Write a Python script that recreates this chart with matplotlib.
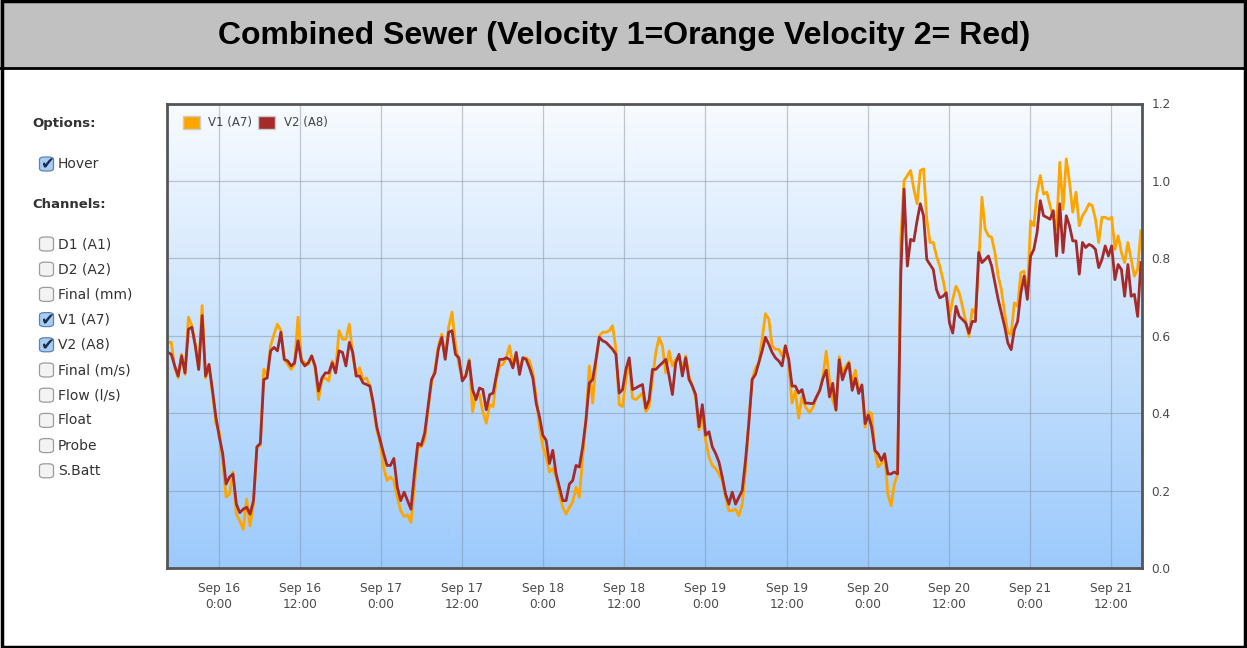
import numpy as np
import pandas as pd
import matplotlib
matplotlib.use("Agg")
import matplotlib.pyplot as plt
import matplotlib.dates as mdates
from matplotlib.patches import Rectangle, FancyBboxPatch, Patch
from matplotlib.ticker import FuncFormatter
from matplotlib.colors import LinearSegmentedColormap

# ---------------- data ----------------
title = "Combined Sewer (Velocity 1=Orange Velocity 2= Red)"
# readings were logged in three blocks: (first timestamp, last timestamp, count)
sample_blocks = [("2013-09-15 16:30", "2013-09-17 16:36", 96),
                 ("2013-09-17 17:04", "2013-09-19 15:16", 95),
                 ("2013-09-19 15:28", "2013-09-21 16:24", 103)]

v1 = [  # V1 (A7) orange
    .583, .583, .517, .491, .552, .5, .648, .626, .578, .513,
    .678, .491, .522, .452, .374, .352, .278, .183, .191, .248,
    .139, .122, .100, .178, .109, .165, .313, .317, .513, .5,
    .574, .604, .630, .613, .539, .526, .513, .526, .648, .539,
    .530, .526, .548, .517, .435, .487, .491, .483, .535, .513,
    .613, .591, .591, .630, .548, .496, .517, .487, .491, .470,
    .417, .357, .322, .261, .226, .235, .226, .183, .148, .133,
    .137, .118, .209, .313, .313, .330, .409, .478, .513, .574,
    .604, .543, .622, .661, .578, .526, .491, .496, .539, .404,
    .448, .448, .404, .374, .422, .417,
    .487, .522, .526, .543, .574, .522, .548, .513, .543, .543,
    .535, .504, .443, .365, .313, .287, .248, .257, .235, .191,
    .157, .139, .157, .170, .209, .183, .287, .383, .522, .426,
    .530, .6, .609, .609, .613, .626, .565, .422, .417, .487,
    .530, .439, .435, .443, .452, .404, .417, .487, .557, .596,
    .574, .504, .561, .522, .539, .548, .513, .548, .496, .470,
    .439, .357, .391, .330, .287, .265, .257, .243, .226, .183,
    .148, .148, .152, .135, .165, .252, .383, .487, .517, .530,
    .591, .657, .643, .574, .565, .565, .548, .574, .530, .426,
    .457, .387, .443, .417, .404,
    .403, .416, .442, .459, .494, .560, .486, .434, .408, .546,
    .503, .520, .533, .477, .511, .459, .468, .364, .403, .399,
    .304, .261, .270, .295, .191, .161, .217, .243, .849, 1.001,
    1.014, 1.027, .979, .941, 1.027, 1.031, .901, .841, .841, .806,
    .780, .745, .702, .650, .694, .728, .711, .676, .637, .598,
    .668, .659, .780, .958, .875, .858, .854, .815, .754, .719,
    .659, .607, .603, .685, .676, .763, .767, .702, .897, .884,
    .971, 1.014, .966, .971, .936, .906, .875, 1.048, .927, 1.057,
    .997, .919, .971, .884, .910, .923, .941, .936, .901, .841,
    .906, .906, .901, .906, .823, .858, .815, .789, .841, .797,
    .754, .771, .871,
]

v2 = [  # V2 (A8) red
    .557, .552, .522, .496, .548, .504, .617, .622, .574, .513,
    .652, .496, .526, .461, .391, .339, .296, .217, .235, .243,
    .165, .143, .152, .157, .139, .174, .313, .322, .487, .491,
    .561, .570, .561, .609, .539, .535, .522, .530, .587, .535,
    .522, .530, .548, .522, .457, .491, .504, .504, .530, .504,
    .561, .557, .522, .583, .557, .496, .496, .478, .474, .470,
    .426, .365, .330, .296, .265, .265, .283, .209, .174, .196,
    .174, .152, .243, .322, .317, .348, .417, .487, .504, .565,
    .596, .539, .609, .613, .552, .543, .483, .496, .535, .461,
    .435, .465, .461, .409, .448, .452,
    .496, .539, .539, .543, .539, .517, .557, .5, .543, .539,
    .517, .491, .426, .391, .343, .330, .270, .304, .243, .209,
    .174, .174, .217, .226, .265, .261, .313, .383, .478, .487,
    .539, .596, .587, .583, .574, .565, .552, .452, .461, .513,
    .543, .461, .465, .470, .474, .413, .435, .513, .513, .522,
    .530, .539, .496, .448, .530, .552, .496, .543, .487, .470,
    .448, .365, .422, .343, .352, .313, .296, .274, .235, .191,
    .165, .196, .165, .183, .2, .278, .374, .487, .5, .530,
    .561, .596, .578, .557, .543, .535, .522, .574, .539, .470,
    .470, .452, .461, .426, .426,
    .425, .425, .442, .459, .490, .511, .442, .477, .408, .538,
    .486, .511, .529, .459, .490, .451, .473, .373, .395, .364,
    .304, .295, .278, .295, .243, .243, .248, .243, .763, .979,
    .780, .849, .845, .897, .941, .910, .797, .784, .771, .719,
    .698, .702, .711, .633, .607, .676, .650, .642, .633, .607,
    .637, .637, .815, .789, .797, .806, .780, .737, .694, .659,
    .624, .581, .564, .616, .637, .711, .754, .694, .806, .823,
    .867, .949, .910, .906, .901, .923, .806, .941, .815, .910,
    .884, .845, .845, .759, .841, .828, .836, .832, .823, .776,
    .797, .832, .806, .832, .745, .784, .771, .702, .784, .702,
    .707, .650, .789,
]

series_names = ["V1 (A7)", "V2 (A8)"]
series_colors = ["#ffa500", "#a52a2a"]
y_ticks = [0.0, 0.2, 0.4, 0.6, 0.8, 1.0, 1.2]
x_tick_times = pd.date_range("2013-09-16 00:00", "2013-09-21 12:00", freq="12h")
x_range = ("2013-09-15 16:22", "2013-09-21 16:34")

options_items = [("Hover", True)]
channel_items = [("D1 (A1)", False), ("D2 (A2)", False), ("Final (mm)", False),
                 ("V1 (A7)", True), ("V2 (A8)", True), ("Final (m/s)", False),
                 ("Flow (l/s)", False), ("Float", False), ("Probe", False),
                 ("S.Batt", False)]

# ---------------- figure ----------------
W, H = 1247, 648
fig = plt.figure(figsize=(W / 100, H / 100), dpi=100)
fig.patch.set_facecolor("white")

def fx(px):
    return px / W

def fy(py):
    return 1 - py / H

# Title bar
fig.patches.append(Rectangle((0, fy(68)), 1, 68 / H, transform=fig.transFigure,
                             facecolor="#c1c1c1", edgecolor="none", zorder=0))
fig.add_artist(plt.Line2D([0, 1], [fy(67.5), fy(67.5)], transform=fig.transFigure,
                          color="black", lw=2))
fig.text(fx(624), fy(36), title, ha="center", va="center", fontsize=23,
         fontweight="bold", family="Liberation Sans", color="black")
# outer border
fig.patches.append(Rectangle((0.0015, 0.002), 0.997, 0.996, transform=fig.transFigure,
                             facecolor="none", edgecolor="black", lw=2.5, zorder=10))

# ---------------- axes ----------------
ax = fig.add_axes([fx(167), fy(568), fx(1142 - 167), (568 - 103.5) / H])
times = pd.DatetimeIndex(np.concatenate(
    [pd.date_range(a, b, periods=n).values for a, b, n in sample_blocks]))

# gradient background
grad = np.linspace(0, 1, 256).reshape(-1, 1)
cmap = LinearSegmentedColormap.from_list("bg", ["#9ccafc", "#c9e2fd", "#f8fbff"])
ax.imshow(grad, extent=[0, 1, 0, 1], transform=ax.transAxes, origin="lower",
          aspect="auto", cmap=cmap, zorder=0)

for vals, name, col in zip([v1, v2], series_names, series_colors):
    ax.plot(times, vals, color=col, lw=2.0, label=name, zorder=3,
            solid_joinstyle="round")

ax.set_xlim(pd.Timestamp(x_range[0]), pd.Timestamp(x_range[1]))
ax.set_ylim(0, 1.2)
ax.set_yticks(y_ticks)
ax.yaxis.tick_right()
ax.yaxis.set_major_formatter(FuncFormatter(lambda v, p: f"{v:.1f}"))
ax.set_xticks(x_tick_times)
ax.xaxis.set_major_formatter(FuncFormatter(
    lambda v, p: mdates.num2date(v).strftime("%b %d") + "\n" +
    f"{mdates.num2date(v).hour}:00"))
ax.tick_params(axis="both", length=0, labelsize=8.7, labelcolor="#4a4a4a")
ax.tick_params(axis="x", pad=10)
ax.tick_params(axis="y", pad=7)
for lab in ax.get_xticklabels():
    lab.set_linespacing(1.35)
ax.grid(True, color="#7d8a99", alpha=0.45, lw=0.9, zorder=1)
ax.set_axisbelow(True)
for s in ax.spines.values():
    s.set_color("#555555")
    s.set_linewidth(2)
    s.set_zorder(5)

handles = [Patch(facecolor=c, edgecolor="#cccccc", lw=1) for c in series_colors]
leg = ax.legend(handles, series_names, loc="upper left", ncol=2, frameon=False,
                fontsize=8.5, handlelength=1.45, handleheight=1.2, handletextpad=0.75,
                columnspacing=0.5, borderaxespad=0.5, bbox_to_anchor=(0.005, 0.995))
for t in leg.get_texts():
    t.set_color("#444444")

# ---------------- left panel ----------------
def checkbox(cy, checked):
    x0, size = 39.5, 14
    box = FancyBboxPatch((fx(x0), fy(cy + size / 2)), fx(size), size / H,
                         boxstyle="round,pad=0,rounding_size=0.004",
                         transform=fig.transFigure,
                         facecolor="#a9cdf2" if checked else "#f3f3f3",
                         edgecolor="#5b82b5" if checked else "#9c9c9c", lw=0.9)
    fig.patches.append(box)
    if checked:
        fig.text(fx(x0 + size / 2 + 1), fy(cy + 0.5), "\u2714", ha="center",
                 va="center", fontsize=12, color="#1c2d4f", family="DejaVu Sans")

fig.text(fx(32), fy(124), "Options:", ha="left", va="center", fontsize=9.5,
         fontweight="bold", color="#333333")
fig.text(fx(32), fy(204), "Channels:", ha="left", va="center", fontsize=9.5,
         fontweight="bold", color="#333333")
for lab, chk in options_items:
    checkbox(164, chk)
    fig.text(fx(58), fy(164), lab, ha="left", va="center", fontsize=10,
             color="#333333")
for k, (lab, chk) in enumerate(channel_items):
    cy = 244 + 25.2 * k
    checkbox(cy, chk)
    fig.text(fx(58), fy(cy), lab, ha="left", va="center", fontsize=10,
             color="#333333")

fig.savefig("out.png", dpi=100, facecolor="white")
